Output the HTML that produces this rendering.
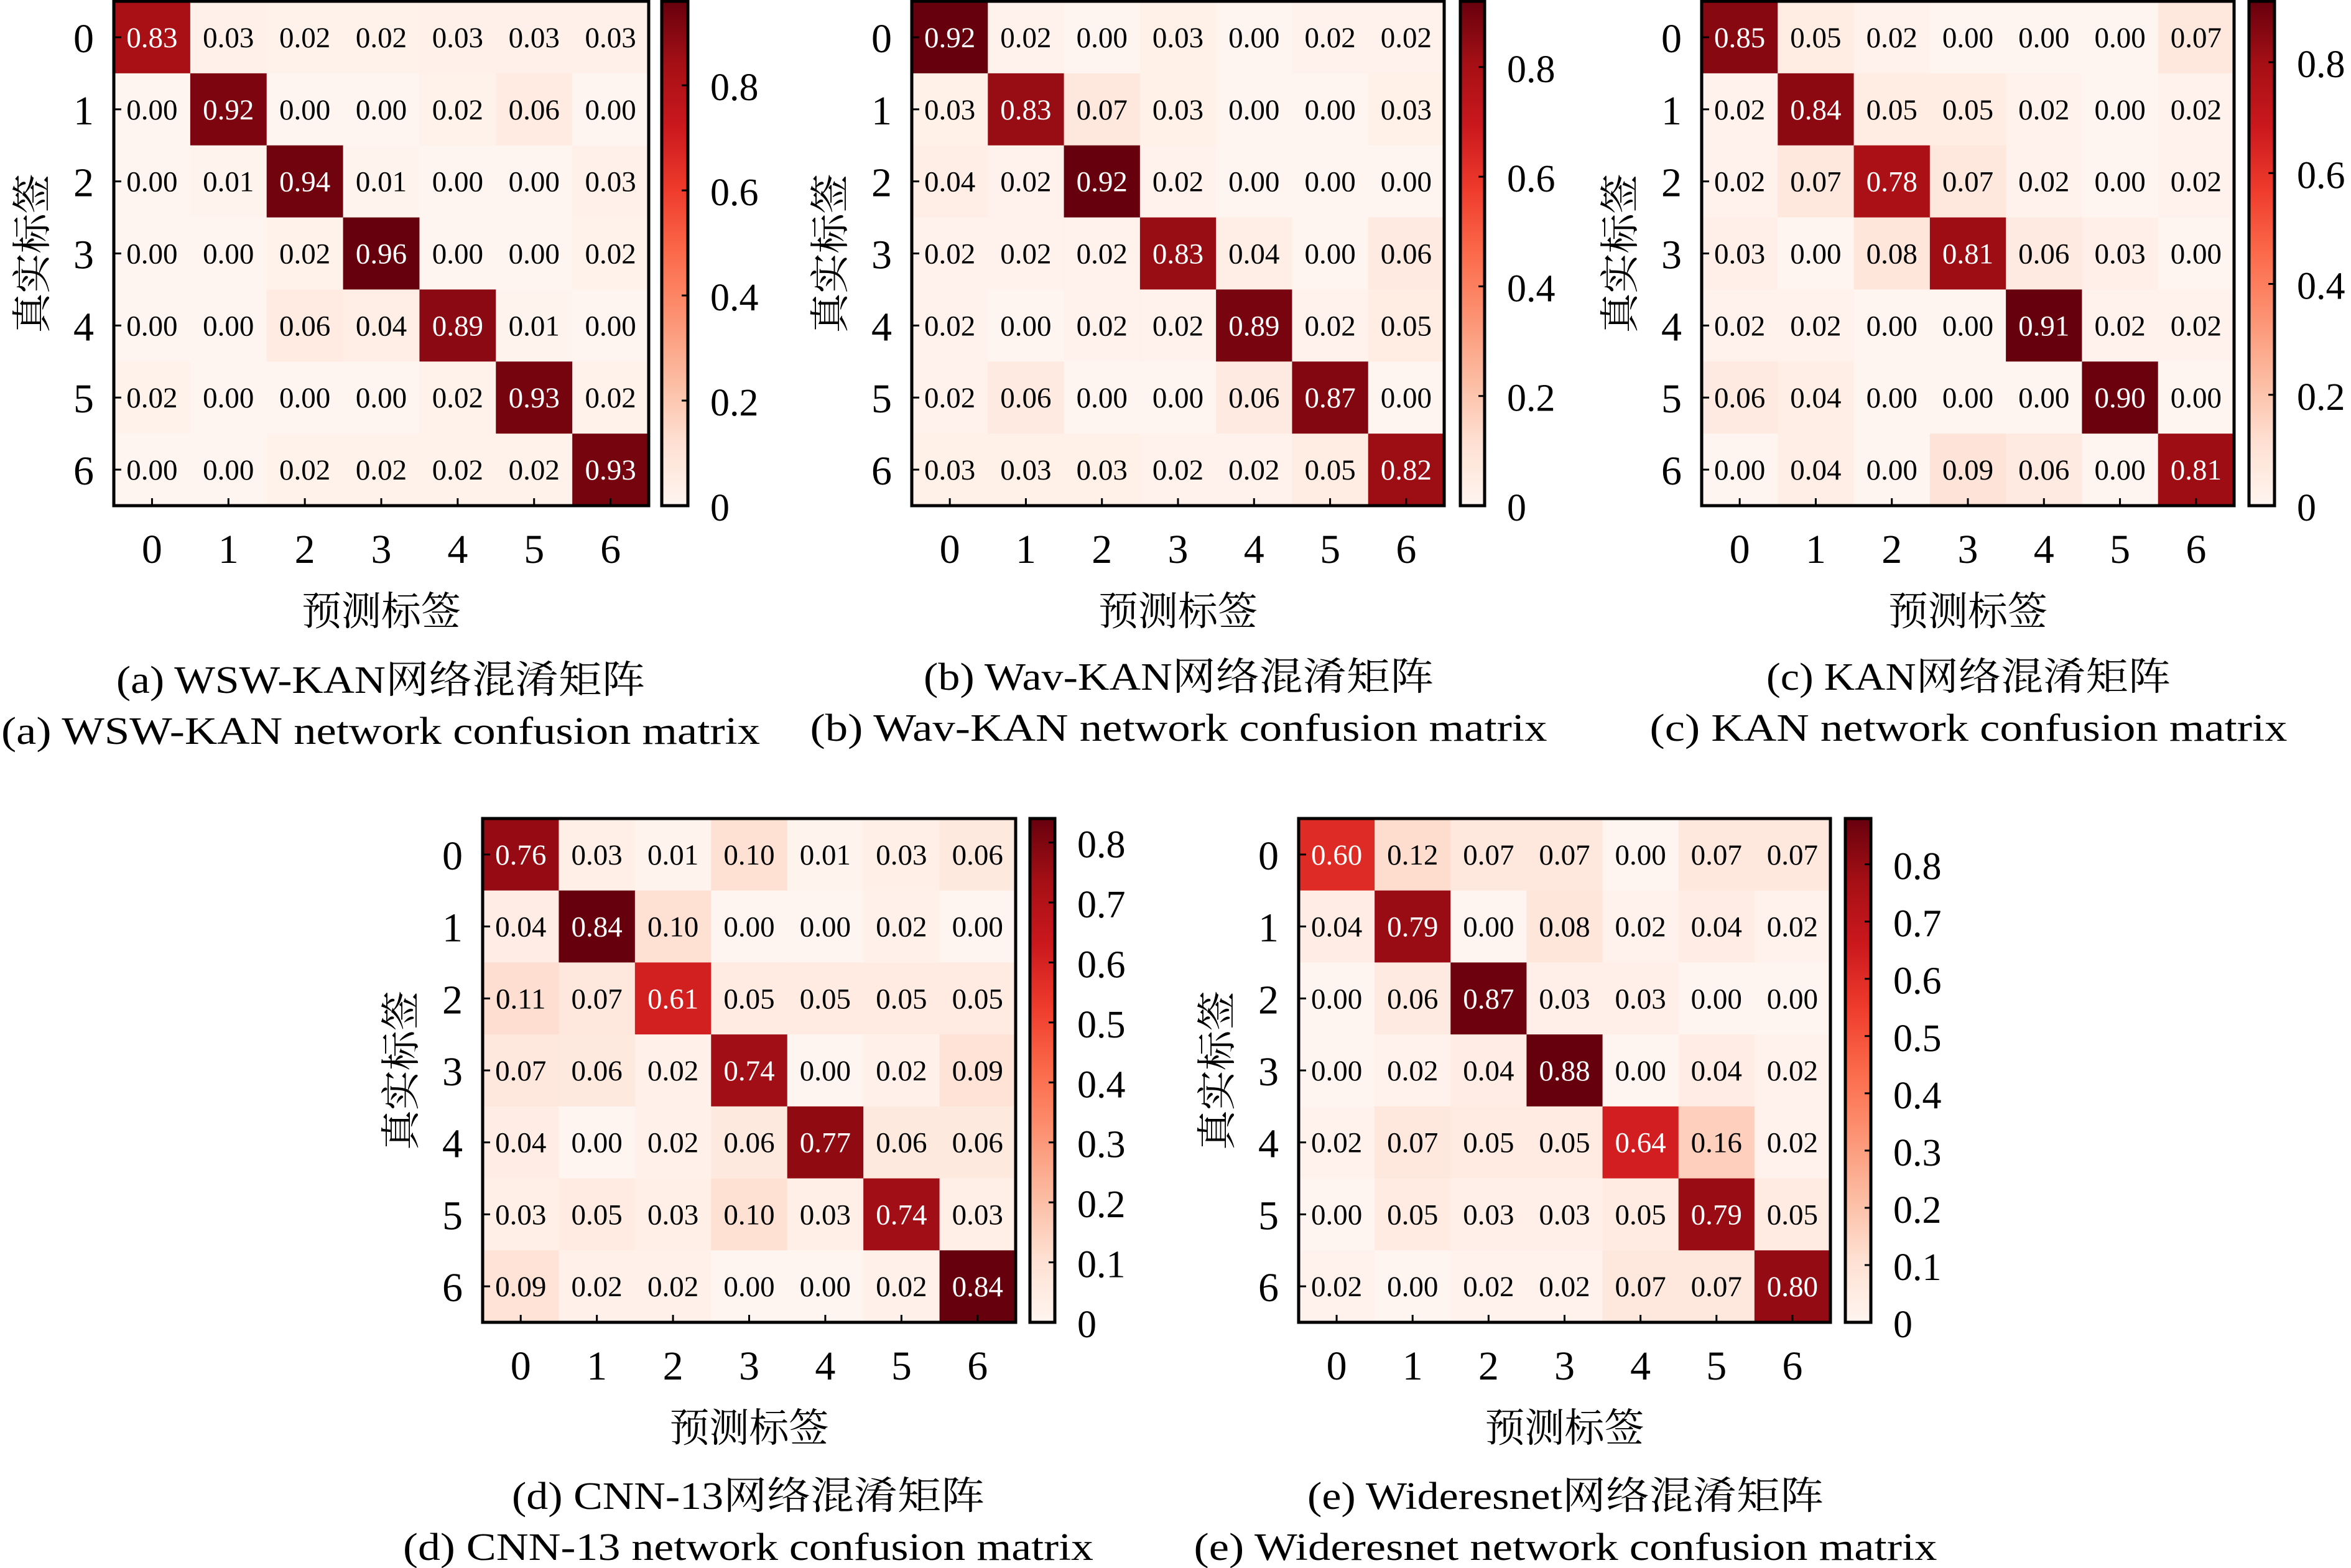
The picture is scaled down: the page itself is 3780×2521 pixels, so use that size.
<!DOCTYPE html>
<html><head><meta charset="utf-8"><style>
html,body{margin:0;padding:0;background:#fff}
svg{display:block}
text{font-family:"Liberation Serif","Noto Serif CJK SC",serif}
</style></head><body>
<svg id="fig" width="3780" height="2521" viewBox="0 0 3780 2521" xmlns="http://www.w3.org/2000/svg"></svg>
<script>
const classLabels = ['0','1','2','3','4','5','6'];
const matA = [
[0.83,0.03,0.02,0.02,0.03,0.03,0.03],
[0.00,0.92,0.00,0.00,0.02,0.06,0.00],
[0.00,0.01,0.94,0.01,0.00,0.00,0.03],
[0.00,0.00,0.02,0.96,0.00,0.00,0.02],
[0.00,0.00,0.06,0.04,0.89,0.01,0.00],
[0.02,0.00,0.00,0.00,0.02,0.93,0.02],
[0.00,0.00,0.02,0.02,0.02,0.02,0.93]];
const matB = [
[0.92,0.02,0.00,0.03,0.00,0.02,0.02],
[0.03,0.83,0.07,0.03,0.00,0.00,0.03],
[0.04,0.02,0.92,0.02,0.00,0.00,0.00],
[0.02,0.02,0.02,0.83,0.04,0.00,0.06],
[0.02,0.00,0.02,0.02,0.89,0.02,0.05],
[0.02,0.06,0.00,0.00,0.06,0.87,0.00],
[0.03,0.03,0.03,0.02,0.02,0.05,0.82]];
const matC = [
[0.85,0.05,0.02,0.00,0.00,0.00,0.07],
[0.02,0.84,0.05,0.05,0.02,0.00,0.02],
[0.02,0.07,0.78,0.07,0.02,0.00,0.02],
[0.03,0.00,0.08,0.81,0.06,0.03,0.00],
[0.02,0.02,0.00,0.00,0.91,0.02,0.02],
[0.06,0.04,0.00,0.00,0.00,0.90,0.00],
[0.00,0.04,0.00,0.09,0.06,0.00,0.81]];
const matD = [
[0.76,0.03,0.01,0.10,0.01,0.03,0.06],
[0.04,0.84,0.10,0.00,0.00,0.02,0.00],
[0.11,0.07,0.61,0.05,0.05,0.05,0.05],
[0.07,0.06,0.02,0.74,0.00,0.02,0.09],
[0.04,0.00,0.02,0.06,0.77,0.06,0.06],
[0.03,0.05,0.03,0.10,0.03,0.74,0.03],
[0.09,0.02,0.02,0.00,0.00,0.02,0.84]];
const matE = [
[0.60,0.12,0.07,0.07,0.00,0.07,0.07],
[0.04,0.79,0.00,0.08,0.02,0.04,0.02],
[0.00,0.06,0.87,0.03,0.03,0.00,0.00],
[0.00,0.02,0.04,0.88,0.00,0.04,0.02],
[0.02,0.07,0.05,0.05,0.64,0.16,0.02],
[0.00,0.05,0.03,0.03,0.05,0.79,0.05],
[0.02,0.00,0.02,0.02,0.07,0.07,0.80]];
const ticksA = [0,0.2,0.4,0.6,0.8];
const ticksD = [0,0.1,0.2,0.3,0.4,0.5,0.6,0.7,0.8];
const captionsCN = ['(a) WSW-KAN网络混淆矩阵','(b) Wav-KAN网络混淆矩阵','(c) KAN网络混淆矩阵','(d) CNN-13网络混淆矩阵','(e) Wideresnet网络混淆矩阵'];
const captionsEN = ['(a) WSW-KAN network confusion matrix','(b) Wav-KAN network confusion matrix','(c) KAN network confusion matrix','(d) CNN-13 network confusion matrix','(e) Wideresnet network confusion matrix'];

const stops=[[255,245,240],[254,224,210],[252,187,161],[252,146,114],[251,106,74],[239,59,44],[203,24,29],[165,15,21],[103,0,13]];
function reds(t){t=Math.max(0,Math.min(1,t));const p=t*(stops.length-1);const i=Math.min(stops.length-2,Math.floor(p));const f=p-i;
const c=stops[i].map((v,k)=>Math.round(v+(stops[i+1][k]-v)*f));return `rgb(${c[0]},${c[1]},${c[2]})`;}
const NS='http://www.w3.org/2000/svg';
const svg=document.getElementById('fig');
function mk(tag,attrs,parent,txt){const e=document.createElementNS(NS,tag);for(const k in attrs)e.setAttribute(k,attrs[k]);if(txt!==undefined)e.textContent=txt;parent.appendChild(e);return e;}

const panels=[
{m:matA,x0:183,x1:1043,y0:2,y1:813,cb0:1064,cb1:1106,ticks:ticksA,cap:0,capX:612,capY:1114},
{m:matB,x0:1466,x1:2322,y0:2,y1:813,cb0:2348,cb1:2387,ticks:ticksA,cap:1,capX:1895,capY:1109},
{m:matC,x0:2736,x1:3592,y0:2,y1:813,cb0:3616,cb1:3657,ticks:ticksA,cap:2,capX:3165,capY:1109},
{m:matD,x0:776,x1:1633,y0:1316,y1:2126,cb0:1656,cb1:1696,ticks:ticksD,cap:3,capX:1203,capY:2426},
{m:matE,x0:2088,x1:2943,y0:1316,y1:2126,cb0:2967,cb1:3008,ticks:ticksD,cap:4,capX:2517,capY:2426}];

panels.forEach((P,pi)=>{
  const g=mk('g',{},svg);
  
  
  const n=classLabels.length;
  let vmax=0;P.m.forEach(r=>r.forEach(v=>{if(v>vmax)vmax=v;}));
  const cw=(P.x1-P.x0)/n,ch=(P.y1-P.y0)/n;
  const xS=j=>P.x0+j*cw, yS=i=>P.y0+i*ch;
  P.m.forEach((row,i)=>row.forEach((v,j)=>{
    const r=mk('rect',{x:xS(j),y:yS(i),width:cw+0.6,height:ch+0.6,fill:reds(v/vmax)},g);
    
    
    const t=mk('text',{x:xS(j)+cw/2,y:yS(i)+ch/2+16,'text-anchor':'middle','font-size':47,fill:(v>vmax*0.5?'#fff':'#000')},g,v.toFixed(2));
    
    
  }));
  mk('rect',{x:P.x0,y:P.y0,width:P.x1-P.x0,height:P.y1-P.y0,fill:'none',stroke:'#000','stroke-width':5},g);
  classLabels.forEach((lab,k)=>{
    mk('line',{x1:P.x0,x2:P.x0+12,y1:yS(k)+ch/2,y2:yS(k)+ch/2,stroke:'#000','stroke-width':3},g);
    mk('line',{x1:xS(k)+cw/2,x2:xS(k)+cw/2,y1:P.y1,y2:P.y1-12,stroke:'#000','stroke-width':3},g);
    const yl=mk('text',{x:P.x0-32,y:yS(k)+ch/2+24,'text-anchor':'end','font-size':66},g,lab);
    
    
    const xl=mk('text',{x:xS(k)+cw/2,y:P.y1+92,'text-anchor':'middle','font-size':66},g,lab);
    
    
  });
  const xt=mk('text',{x:(P.x0+P.x1)/2,y:P.y1+192,'text-anchor':'middle','font-size':64},g,'预测标签');
  
  
  const cy=(P.y0+P.y1)/2;
  const yt=mk('text',{x:0,y:0,'text-anchor':'middle','font-size':64,transform:`translate(${P.x0-109},${cy}) rotate(-90)`},g,'真实标签');
  
  
  const gid='grad'+pi;
  const defs=mk('defs',{},g);
  const lg=mk('linearGradient',{id:gid,x1:0,y1:1,x2:0,y2:0},defs);
  for(let s=0;s<=16;s++){mk('stop',{offset:s/16,'stop-color':reds(s/16)},lg);}
  const cb=mk('rect',{x:P.cb0,y:P.y0,width:P.cb1-P.cb0,height:P.y1-P.y0,fill:`url(#${gid})`,stroke:'#000','stroke-width':5},g);
  
  
  const cS=v=>P.y1-(v/vmax)*(P.y1-P.y0);
  P.ticks.forEach(tv=>{
    mk('line',{x1:P.cb1,x2:P.cb1-10,y1:cS(tv),y2:cS(tv),stroke:'#000','stroke-width':3},g);
    const tl=mk('text',{x:P.cb1+36,y:cS(tv)+24,'font-size':62},g,tv===0?'0':tv.toFixed(1));
    
    
  });
  const c1=mk('text',{x:P.capX,y:P.capY,'text-anchor':'middle','font-size':62,textLength:[850,820,650,760,830][pi],lengthAdjust:'spacingAndGlyphs'},g,captionsCN[P.cap]);
  
  
  const c2=mk('text',{x:P.capX,y:P.capY+82,'text-anchor':'middle','font-size':62,textLength:[1220,1185,1025,1110,1195][pi],lengthAdjust:'spacingAndGlyphs'},g,captionsEN[P.cap]);
  
  
});
</script>
</body></html>
